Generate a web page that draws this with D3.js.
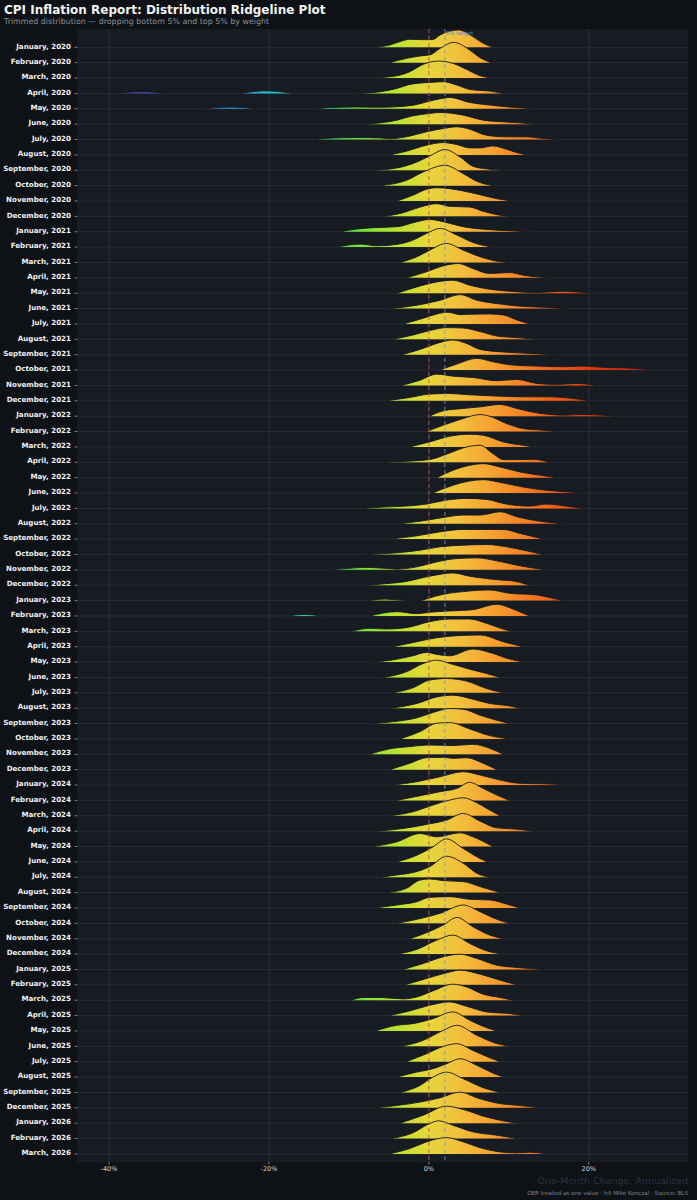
<!DOCTYPE html>
<html><head><meta charset="utf-8">
<script src="https://cdn.jsdelivr.net/npm/d3@7/dist/d3.min.js"></script>
<style>
html,body{margin:0;padding:0;background:#0e1116;}
svg{display:block;}
</style></head>
<body>
<svg id="chart" width="697" height="1200"></svg>
<script>
// ---------------- DATA ----------------
const months = [
 "January, 2020","February, 2020","March, 2020","April, 2020","May, 2020","June, 2020","July, 2020","August, 2020","September, 2020","October, 2020","November, 2020","December, 2020",
 "January, 2021","February, 2021","March, 2021","April, 2021","May, 2021","June, 2021","July, 2021","August, 2021","September, 2021","October, 2021","November, 2021","December, 2021",
 "January, 2022","February, 2022","March, 2022","April, 2022","May, 2022","June, 2022","July, 2022","August, 2022","September, 2022","October, 2022","November, 2022","December, 2022",
 "January, 2023","February, 2023","March, 2023","April, 2023","May, 2023","June, 2023","July, 2023","August, 2023","September, 2023","October, 2023","November, 2023","December, 2023",
 "January, 2024","February, 2024","March, 2024","April, 2024","May, 2024","June, 2024","July, 2024","August, 2024","September, 2024","October, 2024","November, 2024","December, 2024",
 "January, 2025","February, 2025","March, 2025","April, 2025","May, 2025","June, 2025","July, 2025","August, 2025","September, 2025","December, 2025",
 "January, 2026","February, 2026","March, 2026"
];
// density profile per month: flat list of (one-month change %, density) pairs
const densities = [
 [-6.5,0,-4.9,2.3,-3.6,5.7,-2.4,8,-0.5,7.6,0.5,7.8,1.4,12.3,3.7,17.3,5.5,10.7,6.8,4,8,0],
 [-4.9,0,-2.8,4.3,-1.1,6.7,0.2,8,1.4,14.3,3.1,20.3,5.1,12.7,6.4,5,7.8,0],
 [-7.2,0,-4,2.3,-2.4,6.3,-0.7,13.7,1.2,17,3,14.7,4.7,8.7,6.4,2.3,8,0],
 [-39,0,-36,2,-33,0,-23.5,0,-20.5,2.6,-17,0,-9,0,-6.1,1.7,-4,5,-2.4,9,0.1,11,1.8,11.7,3.5,8.3,5.1,4,7.6,2.3,9.3,0],
 [-28,0,-25,1.7,-21.5,0,-14,0,-12.4,1.3,-9,1.8,-6,1.5,-4,2,-1.5,4.3,0.1,7.7,2.2,11,2.6,11.3,5.1,6.3,7.6,3.7,9.7,2,12.2,0.5,12.8,0],
 [-7.8,0,-4,4,-2,8.3,0.1,10.7,1.4,11.7,4.3,9,6.8,4,9.3,2.3,11.4,1.3,13,0],
 [-14.2,0,-12,1.5,-9,2,-6,1.5,-4.9,0.8,-2.8,2.7,-0.3,7.7,1.8,11,3.5,12.7,5.1,10.3,7.2,4.3,9.7,2.7,12.2,2.7,14.3,1,16,0],
 [-4.9,0,-2.8,3.7,-0.3,9.7,1.8,12.3,3.5,10.3,5.1,7,6.4,7,8,9,9.7,5.7,11,2.3,12.2,0],
 [-7.2,0,-4,2.3,-1.5,8.3,0.1,14.3,2,20.7,3.9,13.3,5.5,4,7.6,1,9.3,0],
 [-6.1,0,-2.8,5.3,-0.7,13.7,2,20.3,4.3,12,6,4.3,8,0],
 [-4,0,-2,5.7,-0.3,11.7,1,13.3,2.6,12.3,4.3,10,6.4,6.3,8.5,2.3,10.5,0],
 [-5.7,0,-3.2,3.7,-1.1,9.3,1,12.7,2.6,10,5.1,9.3,6.8,5,8.5,1.7,10.1,0],
 [-11.1,0,-9,2.7,-7,4,-4,5,-1.5,10,0.1,12.3,1.8,10,4.3,5,7.2,2.3,10.1,1,12.6,0],
 [-11.5,0,-8.6,3,-6.5,1.3,-4,2.7,-2,7,-0.3,13.7,1.4,18.7,3.5,12,5.5,4.7,8,0],
 [-3.6,0,-1.5,5.7,0.1,12.3,2.2,19,4.3,12.3,6.4,5.7,8.5,1.3,10,0],
 [-2.8,0,-0.3,6,1.8,12,3.7,14.3,5.5,9.3,7.6,4.3,10.1,5.3,11.8,2.7,13.5,1,15.1,0],
 [-4,0,-1.5,6.3,1,11.3,3,13,5.1,8,7.6,4,10.1,2,13.5,0.7,16.8,2,18.5,1.3,20.5,0],
 [-4.9,0,-1.5,3.3,1.4,8.3,3.9,14,6,8.3,8.5,5,11,2.7,14.3,1.3,17.5,0],
 [-3.2,0,-0.7,5.7,1,10,2.4,11.7,3.9,9.3,5.1,9.7,7.6,10,9.3,9,11,4,12.6,0],
 [-4.5,0,-2,4.3,0.1,8.7,2.2,11.7,4.3,11.3,6.4,7.7,8.5,3.3,11,1.7,13.5,0],
 [-3.4,0,-1.1,5.3,1,11.3,3,14.7,4.7,11.3,6.4,5.3,9.3,2.7,12.6,1.3,16,0],
 [1.4,0,3.5,6,6,11.7,8,8.3,10.5,5,13.5,4,16.8,3.3,19.3,4,21.8,2.7,24.3,2.3,26.4,1.3,27.8,0],
 [-3.4,0,-1.1,5.3,1,11.3,3,9.3,5.5,8,8.5,4.7,11,6,13.5,2,16,1,18.5,2,21,0],
 [-5.3,0,-2.4,3.3,0.1,6.7,2.6,7.3,5.1,6,8.5,4.7,11.8,4,15.1,4,17.6,2.7,20.1,0],
 [0.1,0,1.8,5.3,4.3,7.7,6.4,9.3,8.9,11.7,11,7.7,13.5,3.3,16.8,1,19.3,1.7,21.8,1,23.5,0],
 [-0.3,0,1.8,6.3,4.3,13,6.4,17,7.6,15.3,9.7,8,11.8,3,14.3,1.3,16,0],
 [-2.4,0,0.1,5,2.6,10.7,5.1,12.7,6.8,11.7,9.3,5,11.8,1.7,13,0],
 [-5.7,0,-2,1.3,0.1,2.7,2.6,9.3,4.7,15.3,6.4,17,8,8.7,9.3,2.7,11,2.7,13,3,15.1,0],
 [1,0,3,7.3,5.1,12.3,6.8,14,8.9,10.7,11.4,5.7,14,2.3,16,0],
 [0.5,0,3,7.7,5.1,12,6.8,13.3,9.3,10,11.8,6,14.7,2.7,17.6,1,19.3,0],
 [-8.2,0,-5.7,1.3,-2.8,2.3,-0.3,4.3,2.2,8.3,4.7,10,7.2,9,9.7,4.3,12.6,2.3,14.7,4.3,16.8,2.7,19.3,0],
 [-3.6,0,-0.7,3,1.8,6.3,4.3,8.7,6.4,8.7,8.9,12,11,7,13.5,3,16.8,0],
 [-4.9,0,-1.5,3.3,1.4,7.3,4.3,9.7,6.8,9.7,9.3,9.7,11.4,5.7,13.5,1.7,14.3,0],
 [-7.8,0,-4,1.7,-1.1,4.3,1.4,7.7,4.3,9.3,7.2,10,9.7,7.7,12.2,3.7,14.3,0],
 [-12.5,0,-10,1.5,-8,2.5,-6,1.8,-4,0.7,-1.5,3,1,8,3.5,11.3,6,12,8.5,9,11,4.7,13.5,1.3,14.8,0],
 [-7.6,0,-5.5,1.5,-3.2,3.3,0.1,9,3,12.3,5.1,9,7.2,6.7,9.3,5,10.1,4.7,12.6,0],
 [-7.6,0,-5.5,1.5,-3.2,0.3,-1,0,-0.3,1.7,1.8,6.3,4.3,9,7.6,10.7,10.1,7.3,13.5,5.7,15.1,3,16.8,0],
 [-17.8,0,-15.5,1.5,-13.4,0,-7.4,0,-4,4.3,-1.5,2.3,0.1,3.7,2.6,5,5.5,6.3,8.5,11.7,10.1,8.3,11.8,2.7,12.6,0],
 [-9.7,0,-7.4,3,-5.3,2.3,-2.8,3.7,0.1,9.7,2.6,12.3,5.1,12.3,7.2,8,9.7,1.3,10.4,0],
 [-4.5,0,-1.5,5,1,9,3.5,11,6.4,11.7,9.3,5,11.8,0],
 [-7.8,0,-4.9,1.7,-2,6.3,-0.3,9.7,1,7.7,2.6,6.3,5.5,13,7.6,9.7,10.1,3,11.8,0],
 [-5.7,0,-2.8,5.7,-0.7,14,1,17.3,2.6,14,5.1,8.3,7.2,4,8.9,0],
 [-4.5,0,-2,5,0.1,12.7,2.2,14.3,4.7,11.7,7.2,4.3,9.3,0],
 [-4.7,0,-1.5,4.7,1,11.3,3,13,5.5,9,7.6,4.7,10.1,2.3,11.4,0],
 [-7,0,-4,2.3,-1.5,5.7,0.5,11,2.6,15,4.3,14.3,6.4,8.3,8.5,3.3,10.1,0],
 [-3.6,0,-1.1,7.3,1,15.7,2.6,16.3,5.1,10,7.6,3.3,10.1,0],
 [-7.4,0,-5,5.3,-2.4,7.7,0.1,9.3,3,8.7,5.5,10,7.6,6,9.3,0],
 [-4.9,0,-2.4,6.3,-0.3,12,1.8,12.3,3,11.3,4.7,12,6.8,6.3,8.5,0],
 [-4.5,0,-1.5,3.3,1.4,8.3,4.3,13.3,6.4,10,8.9,5,11.4,1.7,14,1.3,16,0.7,16.8,0],
 [-4,0,-1.1,4.7,1.4,8.7,3.5,12,5.1,18,6.8,12,8.5,5.3,10.1,0],
 [-4.9,0,-2,4,0.5,10.7,2.6,15.7,4.3,18,6,13,7.6,5.7,8.9,0],
 [-6.5,0,-3.2,2.7,-0.3,6.7,2.2,11,4.3,17.7,6.4,10,8.5,3.3,11,2,13,0],
 [-7,0,-4,4.7,-1.1,13,1,9.7,3.9,13.7,5.5,9.7,8,0],
 [-4,0,-1.5,6.7,0.5,15,2.2,23,4.3,13.3,6.4,3.3,7.3,0],
 [-6.1,0,-4,2.3,-2,4.7,0.1,10.6,2.2,21,4.3,14,6,4,7.6,0],
 [-5.3,0,-2.8,4.3,-1.1,12.6,0.1,13.6,1.8,12,4.3,11,6.4,6,8.9,0],
 [-6.7,0,-4,3,-1.5,6.3,0.1,10.7,2.6,11.3,5.1,8.7,7.6,8,9.7,4,11.4,0],
 [-4,0,-1.5,4,1.4,10,4.3,18.3,6.4,11.7,8.5,4,10.1,0],
 [-2.4,0,-0.3,6,1.8,13.7,3.5,21.3,5.5,12,7.6,3.7,9.3,0],
 [-4,0,-1.5,4.7,1,14,3,19,5.1,10.7,7.2,3.3,9.3,0],
 [-3.2,0,-0.7,6,1.8,12.7,3.9,15.3,6,11,8.5,4.3,11,2,14.3,0],
 [-3,0,-0.3,6.3,2.2,12,3.9,14.7,6.4,10.7,8.9,4.7,11,0],
 [-9.7,0,-8.2,2.7,-6.1,2.7,-3.2,1.3,-1.5,3.3,0.5,9.3,3,16,4.7,13.3,6.8,6,8.9,2.7,10.5,0],
 [-5,0,-2.4,4.7,0.1,10.3,2.6,13.7,4.7,9.3,7.2,3.7,10.1,2,11.8,0],
 [-6.7,0,-4,5.7,-2,7.3,0.5,12.3,3,19,5.1,10.7,7.2,3.3,8.5,0],
 [-3.4,0,-0.7,6,1.8,16,3.5,21,6,11,8.5,2.7,10.1,0],
 [-2.8,0,-0.3,8,1.8,15.3,3.5,18,5.5,11.3,7.6,4,8.9,0],
 [-4,0,-1.5,5,0.5,8.3,2.2,13.3,3.9,18.3,6,11.7,8,4,9.3,0],
 [-3.6,0,-1.1,7,0.5,15.3,2.2,20.3,4.3,13.7,6.8,4.7,8.9,0],
 [-6.7,0,-4,2.3,-1.1,5.7,1.4,10,3.9,15.7,6,10,8.5,4.7,11.4,2.3,13.8,0],
 [-3.6,0,-0.7,8,2.2,17,4.3,13.7,6.8,7,9.3,2.3,11,0],
 [-4.7,0,-2,5.7,0.1,15,1.2,17.7,3,13.3,5.5,6.7,8.5,3.3,11,0],
 [-5,0,-2.4,5.3,-0.3,12,2.2,16.3,4.3,12,6.8,5.3,8.9,2,11,1,12.6,1.7,14.7,0]
];
const xTicks = [-40, -20, 0, 20];
const xTickLabels = ["-40%", "-20%", "0%", "20%"];
const targetRate = 2;
// colour ramp along the x axis (% change -> colour)
const rampPct = [-40, -30, -24, -19, -14, -9, -4, 0, 4, 8, 12, 16, 20, 28];
const rampColor = ["#40308f","#3a5ec0","#2c9fdc","#22c2c4","#2ed38a","#6ee23a","#bce430","#e8d63a","#f2be3c","#f5a030","#f47e24","#ee5c18","#de3c0e","#a8200a"];

// ---------------- LAYOUT ----------------
const W = 697, H = 1200;
const panel = {left: 77, right: 688, top: 29, bottom: 1162};
const svg = d3.select("#chart");

const x = d3.scaleLinear().domain([-44, 32.4]).range([panel.left, panel.right]);
const y = d3.scalePoint().domain(months).range([47.3, 1153.9]);
const h = d3.scaleLinear().domain([0, 20]).range([0, 20]);

const defs = svg.append("defs");
const grad = defs.append("linearGradient").attr("id", "ramp")
  .attr("gradientUnits", "userSpaceOnUse")
  .attr("x1", x(rampPct[0])).attr("x2", x(rampPct[rampPct.length - 1]))
  .attr("y1", 0).attr("y2", 0);
const span = rampPct[rampPct.length - 1] - rampPct[0];
rampPct.forEach((p, i) => {
  grad.append("stop").attr("offset", (p - rampPct[0]) / span).attr("stop-color", rampColor[i]);
});

// background
svg.append("rect").attr("width", W).attr("height", H).attr("fill", "#0e1116");
svg.append("rect").attr("x", panel.left).attr("y", panel.top)
  .attr("width", panel.right - panel.left).attr("height", panel.bottom - panel.top)
  .attr("fill", "#171b22");

// title
svg.append("text").attr("x", 4).attr("y", 14)
  .attr("font-family", "DejaVu Sans").attr("font-weight", "bold").attr("font-size", 12)
  .attr("fill", "#f2f2f2").text("CPI Inflation Report: Distribution Ridgeline Plot");
svg.append("text").attr("x", 4).attr("y", 24)
  .attr("font-family", "DejaVu Sans").attr("font-size", 7.9)
  .attr("fill", "#8a9099").text("Trimmed distribution \u2014 dropping bottom 5% and top 5% by weight");

// gridlines
const grid = svg.append("g");
grid.selectAll("line.h").data(months).join("line")
  .attr("x1", panel.left).attr("x2", panel.right)
  .attr("y1", d => y(d)).attr("y2", d => y(d))
  .attr("stroke", "#2b3039").attr("stroke-width", 0.9);
grid.selectAll("line.v").data(xTicks).join("line")
  .attr("x1", d => x(d)).attr("x2", d => x(d))
  .attr("y1", panel.top).attr("y2", panel.bottom)
  .attr("stroke", "#2e333c").attr("stroke-width", 0.9);

// ridges
const area = d3.area().curve(d3.curveMonotoneX)
  .x(d => x(d[0])).y0(0).y1(d => -h(d[1]));
const line = d3.line().curve(d3.curveMonotoneX)
  .x(d => x(d[0])).y(d => -h(d[1]));

function segments(flat) {
  const pts = [];
  for (let i = 0; i < flat.length; i += 2) pts.push([flat[i], flat[i + 1]]);
  const segs = [];
  let cur = [];
  pts.forEach(p => {
    const hasPos = cur.some(q => q[1] > 0);
    if (p[1] === 0) {
      if (hasPos) { cur.push(p); segs.push(cur); cur = [p]; }
      else cur = [p];
    } else cur.push(p);
  });
  if (cur.some(q => q[1] > 0)) segs.push(cur);
  return segs;
}

const ridges = svg.append("g");
months.forEach((m, i) => {
  const g = ridges.append("g").attr("transform", `translate(0,${y(m)})`);
  segments(densities[i]).forEach(seg => {
    g.append("path").attr("d", area(seg)).attr("fill", "url(#ramp)");
    g.append("path").attr("d", line(seg)).attr("fill", "none")
      .attr("stroke", "#15171b").attr("stroke-width", 0.9);
  });
});

// reference lines
svg.append("line").attr("x1", x(0)).attr("x2", x(0))
  .attr("y1", panel.top).attr("y2", panel.bottom)
  .attr("stroke", "#a8575a").attr("stroke-width", 1).attr("stroke-dasharray", "4,3").attr("opacity", 0.85);
svg.append("line").attr("x1", x(targetRate)).attr("x2", x(targetRate))
  .attr("y1", panel.top).attr("y2", panel.bottom)
  .attr("stroke", "#8196b5").attr("stroke-width", 1).attr("stroke-dasharray", "4,3").attr("opacity", 0.85);
svg.append("text").attr("x", x(targetRate) + 1).attr("y", 35)
  .attr("font-family", "DejaVu Sans").attr("font-size", 5.5)
  .attr("fill", "#4f88d6").text("2% target");

// y labels
const yl = svg.append("g");
months.forEach(m => {
  yl.append("text").attr("x", 71).attr("y", y(m) + 1.2)
    .attr("text-anchor", "end").attr("font-family", "DejaVu Sans").attr("font-weight", "bold")
    .attr("font-size", 7.1).attr("fill", "#eef0f3").text(m);
  yl.append("line").attr("x1", 74.5).attr("x2", 77).attr("y1", y(m)).attr("y2", y(m))
    .attr("stroke", "#9aa0a8").attr("stroke-width", 0.8);
});

// x axis
const xa = svg.append("g");
xTicks.forEach((t, i) => {
  xa.append("line").attr("x1", x(t)).attr("x2", x(t)).attr("y1", panel.bottom).attr("y2", panel.bottom + 2.5)
    .attr("stroke", "#9aa0a8").attr("stroke-width", 0.8);
  xa.append("text").attr("x", x(t)).attr("y", panel.bottom + 9)
    .attr("text-anchor", "middle").attr("font-family", "DejaVu Sans").attr("font-size", 6.5)
    .attr("fill", "#d0d3d8").text(xTickLabels[i]);
});
svg.append("text").attr("x", panel.right).attr("y", 1184)
  .attr("text-anchor", "end").attr("font-family", "DejaVu Sans").attr("font-size", 9.5)
  .attr("fill", "#2c3139").text("One-Month Change, Annualized");
svg.append("text").attr("x", panel.right).attr("y", 1195)
  .attr("text-anchor", "end").attr("font-family", "DejaVu Sans").attr("font-size", 5.6)
  .attr("fill", "#80868f").text("OER treated as one value \u00b7 h/t Mike Konczal \u00b7 Source: BLS");
</script>
</body></html>
